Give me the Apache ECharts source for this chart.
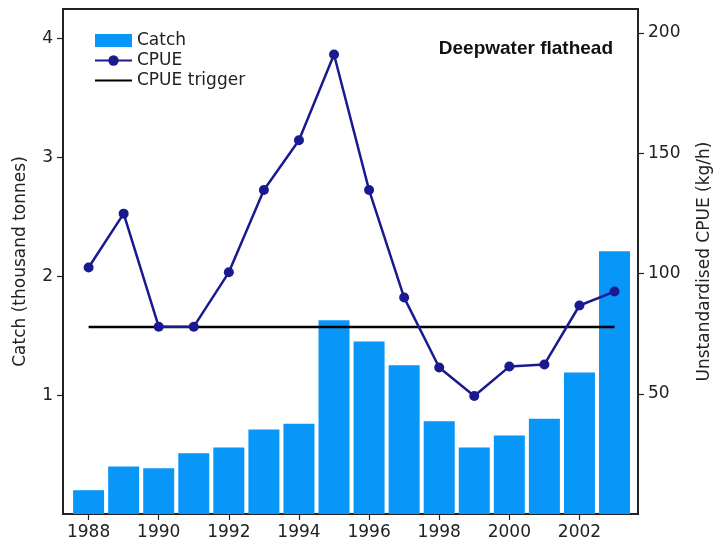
<!DOCTYPE html>
<html>
<head>
<meta charset="utf-8">
<script src="https://cdn.jsdelivr.net/npm/echarts@6/dist/echarts.min.js"></script>
<style>
  html, body { margin: 0; padding: 0; background: #fff; }
  #chart { width: 713px; height: 547px; }
</style>
</head>
<body>
<div id="chart"></div>
<script>
  // data
  const years = [1988, 1989, 1990, 1991, 1992, 1993, 1994, 1995, 1996, 1997, 1998, 1999, 2000, 2001, 2002, 2003];
  const catchValues = [0.2, 0.4, 0.385, 0.51, 0.56, 0.71, 0.76, 1.63, 1.45, 1.25, 0.78, 0.56, 0.66, 0.8, 1.19, 2.21];
  const cpueValues = [102.5, 124.9, 77.9, 77.9, 100.5, 134.7, 155.4, 191.1, 134.7, 90, 60.9, 49.1, 61.3, 62.2, 86.7, 92.5];
  const cpueTrigger = 77.8;
  const triggerYears = [1988, 2003];
  const xLabelYears = [1988, 1990, 1992, 1994, 1996, 1998, 2000, 2002];
  const catchTicks = [1, 2, 3, 4];
  const cpueTicks = [50, 100, 150, 200];

  const chart = echarts.init(document.getElementById('chart'));
  const font = '"DejaVu Sans", sans-serif';
  const tickLine = { color: '#222', width: 1.2 };

  chart.setOption({
    backgroundColor: '#fff',
    animation: false,
    textStyle: { fontFamily: font },
    title: {
      text: 'Deepwater flathead',
      right: 95,
      top: 34,
      textStyle: { fontSize: 19, fontWeight: 'bold', color: '#111', fontFamily: '"Liberation Sans", Arial, sans-serif' }
    },
    legend: {
      orient: 'vertical',
      left: 89,
      top: 27,
      itemWidth: 37,
      itemHeight: 13,
      itemGap: 3,
      textStyle: { fontSize: 17, color: '#222', fontFamily: font },
      data: [
        { name: 'Catch', icon: 'rect' },
        { name: 'CPUE' },
        { name: 'CPUE trigger', itemStyle: { color: 'transparent', borderWidth: 0 } }
      ]
    },
    grid: {
      left: 63,
      right: 75,
      top: 9,
      bottom: 33,
      show: true,
      borderColor: '#222',
      borderWidth: 2,
      backgroundColor: 'transparent',
      containLabel: false,
      outerBoundsMode: 'none'
    },
    xAxis: {
      type: 'value',
      min: 1987.27,
      max: 2003.67,
      axisLine: { show: false },
      splitLine: { show: false },
      axisTick: { show: true, length: 6, lineStyle: tickLine, customValues: xLabelYears },
      axisLabel: {
        fontSize: 17,
        color: '#222',
        margin: 10,
        customValues: xLabelYears,
        formatter: v => String(v)
      }
    },
    yAxis: [{
      type: 'value',
      name: 'Catch (thousand tonnes)',
      nameLocation: 'middle',
      nameGap: 34,
      nameTextStyle: { fontSize: 17, color: '#222', fontFamily: font },
      min: 0,
      max: 4.247,
      axisLine: { show: false },
      splitLine: { show: false },
      axisTick: { show: true, length: 6, lineStyle: tickLine, customValues: catchTicks },
      axisLabel: { fontSize: 17, color: '#222', margin: 10, customValues: catchTicks }
    }, {
      type: 'value',
      name: 'Unstandardised CPUE (kg/h)',
      nameLocation: 'middle',
      nameGap: 58,
      nameRotate: 90,
      nameTextStyle: { fontSize: 17, color: '#222', fontFamily: font },
      position: 'right',
      min: 0,
      max: 210,
      axisLine: { show: false },
      splitLine: { show: false },
      axisTick: { show: true, length: 6, lineStyle: tickLine, customValues: cpueTicks },
      axisLabel: { fontSize: 17, color: '#222', margin: 10, customValues: cpueTicks }
    }],
    series: [{
      name: 'Catch',
      type: 'bar',
      yAxisIndex: 0,
      barWidth: 31,
      itemStyle: { color: '#0896f8' },
      data: years.map((y, i) => [y, catchValues[i]]),
      z: 1
    }, {
      name: 'CPUE trigger',
      type: 'line',
      yAxisIndex: 1,
      symbol: 'none',
      lineStyle: { color: '#000', width: 2.5 },
      itemStyle: { color: '#000' },
      data: triggerYears.map(y => [y, cpueTrigger]),
      z: 2
    }, {
      name: 'CPUE',
      type: 'line',
      yAxisIndex: 1,
      symbol: 'circle',
      symbolSize: 10,
      lineStyle: { color: '#1a1a90', width: 2.5 },
      itemStyle: { color: '#1a1a90' },
      data: years.map((y, i) => [y, cpueValues[i]]),
      z: 3
    }]
  });
</script>
</body>
</html>
